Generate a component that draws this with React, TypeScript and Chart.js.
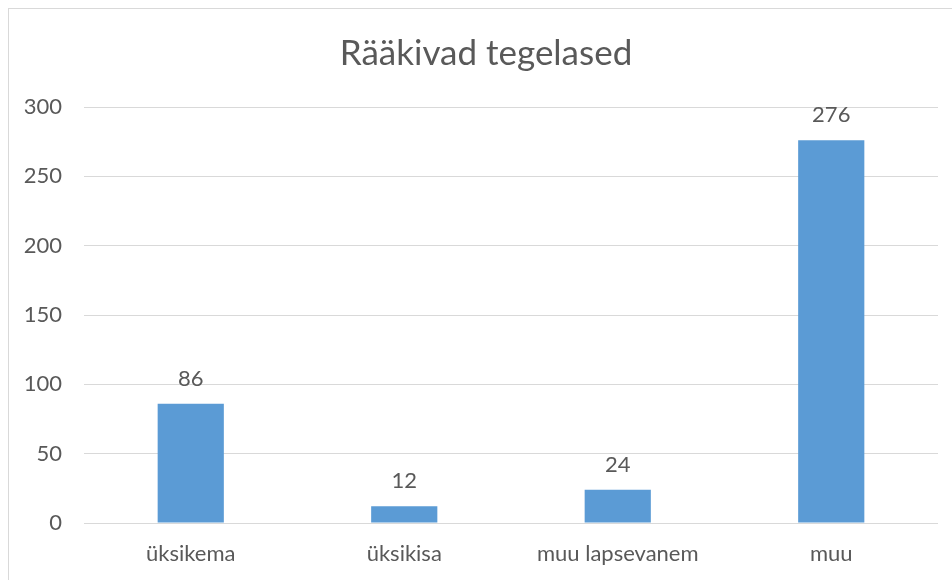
import React, { useEffect, useRef } from "react";
import { Chart, registerables } from "chart.js";

Chart.register(...registerables);

const TITLE = "Rääkivad tegelased";
const categories = ["üksikema", "üksikisa", "muu lapsevanem", "muu"];
const values = [86, 12, 24, 276];
const yTicks = [0, 50, 100, 150, 200, 250, 300];

const TEXT = "#595959";
const GRID = "#d9d9d9";
const BAR = "#5b9bd5";
const FONT = "Lato, 'Open Sans', sans-serif";

const dataLabels = {
  id: "dataLabels",
  afterDatasetsDraw(chart: any) {
    const ctx = chart.ctx;
    const meta = chart.getDatasetMeta(0);
    ctx.save();
    ctx.fillStyle = TEXT;
    ctx.font = `22px ${FONT}`;
    ctx.textAlign = "center";
    ctx.textBaseline = "middle";
    meta.data.forEach((bar: any, i: number) => {
      ctx.fillText(String(values[i]), bar.x, bar.y - 25);
    });
    ctx.restore();
  },
};

export default function App() {
  const ref = useRef<HTMLCanvasElement | null>(null);
  useEffect(() => {
    if (!ref.current) return;
    const chart = new Chart(ref.current, {
      type: "bar",
      data: {
        labels: categories,
        datasets: [
          {
            data: values,
            backgroundColor: BAR,
            borderWidth: 0,
            barPercentage: 0.31,
            categoryPercentage: 1,
          },
        ],
      },
      options: {
        animation: false,
        responsive: false,
        layout: { padding: 0 },
        plugins: {
          legend: { display: false },
          tooltip: { enabled: false },
          title: {
            display: true,
            text: TITLE,
            color: TEXT,
            font: { family: FONT, size: 35, weight: "normal" },
            padding: { top: 24, bottom: 32 },
          },
        },
        scales: {
          x: {
            grid: { display: false, drawTicks: false },
            border: { display: false },
            ticks: {
              color: TEXT,
              font: { family: FONT, size: 22 },
              padding: 18,
              maxRotation: 0,
              autoSkip: false,
            },
            afterFit(scale: any) {
              scale.height = 86;
            },
          },
          y: {
            min: 0,
            max: 300,
            afterBuildTicks(scale: any) {
              scale.ticks = yTicks.map((v) => ({ value: v }));
            },
            grid: { color: GRID, lineWidth: 1, drawTicks: false },
            border: { display: false },
            ticks: {
              color: TEXT,
              font: { family: FONT, size: 22 },
              padding: 22,
            },
            afterFit(scale: any) {
              scale.width = 75;
            },
          },
          yRight: {
            position: "right",
            display: true,
            grid: { display: false, drawTicks: false },
            border: { display: false },
            ticks: { display: false },
            afterFit(scale: any) {
              scale.width = 25;
            },
          },
        },
      },
      plugins: [dataLabels],
    });
    return () => chart.destroy();
  }, []);

  return (
    <div
      style={{
        position: "fixed",
        left: 8,
        top: 8,
        right: 0,
        bottom: 0,
        overflow: "hidden",
      }}
    >
      <div
        style={{
          border: `1px solid ${GRID}`,
          width: 954,
          height: 600,
          background: "#fff",
        }}
      >
        <canvas ref={ref} width={954} height={600} style={{ display: "block" }} />
      </div>
    </div>
  );
}
